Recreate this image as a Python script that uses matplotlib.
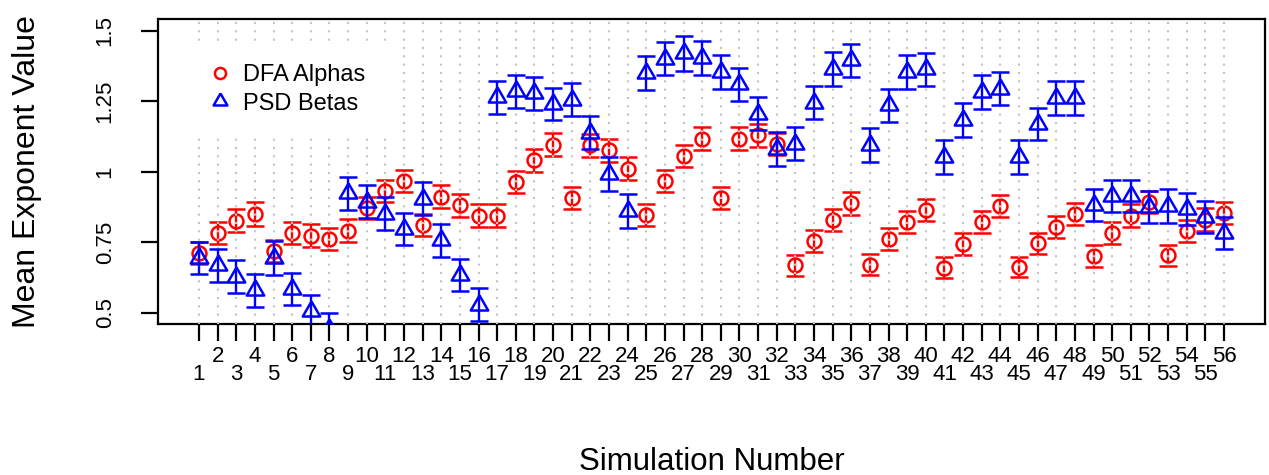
import matplotlib
matplotlib.use("Agg")
import matplotlib.pyplot as plt
from matplotlib.lines import Line2D

plt.rcParams['font.family'] = ['Liberation Sans', 'DejaVu Sans']

# simulation numbers 1..56
sims = list(range(1, 57))

# mean DFA alpha per simulation
dfa_alpha = [0.711, 0.782, 0.826, 0.850, 0.718, 0.782, 0.773, 0.762, 0.791, 0.871,
             0.932, 0.967, 0.811, 0.911, 0.881, 0.844, 0.844, 0.963, 1.040, 1.096,
             0.905, 1.093, 1.075, 1.011, 0.846, 0.967, 1.055, 1.117, 0.906, 1.117,
             1.129, 1.098, 0.668, 0.754, 0.828, 0.888, 0.670, 0.762, 0.820, 0.864,
             0.660, 0.744, 0.820, 0.879, 0.662, 0.746, 0.803, 0.850, 0.701, 0.783,
             0.844, 0.893, 0.703, 0.789, 0.830, 0.853]
dfa_err = [0.040, 0.040, 0.040, 0.041, 0.040, 0.040, 0.040, 0.040, 0.040, 0.040,
           0.040, 0.040, 0.040, 0.040, 0.040, 0.040, 0.040, 0.040, 0.040, 0.040,
           0.039, 0.040, 0.040, 0.040, 0.039, 0.040, 0.040, 0.040, 0.039, 0.040,
           0.040, 0.040, 0.037, 0.038, 0.039, 0.040, 0.037, 0.038, 0.039, 0.040,
           0.037, 0.038, 0.039, 0.040, 0.037, 0.038, 0.039, 0.040, 0.038, 0.039,
           0.040, 0.040, 0.038, 0.039, 0.040, 0.040]

# mean PSD beta per simulation
psd_beta = [0.693, 0.668, 0.628, 0.579, 0.695, 0.583, 0.505, 0.442, 0.923, 0.894,
            0.851, 0.798, 0.904, 0.756, 0.634, 0.529, 1.263, 1.285, 1.278, 1.240,
            1.255, 1.138, 0.993, 0.860, 1.349, 1.400, 1.419, 1.402, 1.352, 1.309,
            1.206, 1.080, 1.099, 1.244, 1.364, 1.394, 1.094, 1.235, 1.352, 1.363,
            1.053, 1.182, 1.283, 1.294, 1.052, 1.168, 1.262, 1.262, 0.883, 0.913,
            0.915, 0.875, 0.877, 0.868, 0.840, 0.783]
psd_err = [0.057, 0.058, 0.058, 0.057, 0.060, 0.057, 0.058, 0.058, 0.059, 0.059,
           0.058, 0.057, 0.059, 0.059, 0.057, 0.057, 0.059, 0.059, 0.058, 0.058,
           0.059, 0.059, 0.060, 0.060, 0.061, 0.058, 0.062, 0.060, 0.060, 0.059,
           0.057, 0.060, 0.059, 0.059, 0.060, 0.060, 0.060, 0.059, 0.060, 0.059,
           0.060, 0.060, 0.060, 0.059, 0.059, 0.057, 0.060, 0.060, 0.057, 0.057,
           0.057, 0.058, 0.060, 0.057, 0.057, 0.057]

y_ticks = [0.5, 0.75, 1.0, 1.25, 1.5]
y_ticklabels = ["0.5", "0.75", "1", "1.25", "1.5"]

# R style triangle (pch=2), centred on its centroid
tri = [(0, 1.5551), (1.3468, -0.7776), (-1.3468, -0.7776), (0, 1.5551)]

fig = plt.figure(figsize=(12.69, 4.75), dpi=100)
fig.subplots_adjust(left=158 / 1269, right=1265 / 1269, bottom=1 - 324 / 475, top=1 - 19.3 / 475)
ax = fig.add_subplot(111)

ax.errorbar(sims, dfa_alpha, yerr=dfa_err, fmt='o', color='#ff0000', mfc='none', mec='#ff0000',
            ms=10, mew=1.8, elinewidth=1.7, capsize=6.5, capthick=1.8, zorder=2)
ax.errorbar(sims, psd_beta, yerr=psd_err, fmt='none', ecolor='#0000ff',
            elinewidth=1.7, capsize=6.5, capthick=1.8, zorder=3)
ax.plot(sims, psd_beta, linestyle='none', marker=tri, color='#0000ff', mfc='none',
        ms=14.5, mew=1.8, zorder=3)

ax.set_xlim(-1.2, 58.2)
ax.set_ylim(0.46, 1.54)

# even labels on upper row, odd labels on lower row
ax.set_xticks([s for s in sims if s % 2 == 0])
ax.set_xticklabels([str(s) for s in sims if s % 2 == 0])
ax.set_xticks([s for s in sims if s % 2 == 1], minor=True)
ax.set_xticklabels([str(s) for s in sims if s % 2 == 1], minor=True)
ax.tick_params(axis='x', which='major', length=12, width=1.6, pad=3.5, labelsize=16)
ax.tick_params(axis='x', which='minor', length=12, width=1.6, pad=16.8, labelsize=16)

ax.set_yticks(y_ticks)
ax.set_yticklabels(y_ticklabels, rotation=90, va='center')
ax.tick_params(axis='y', length=12, width=1.6, pad=18.5, labelsize=16)

for sp in ax.spines.values():
    sp.set_linewidth(1.6)

# dotted vertical guides at every simulation
ax.grid(True, which='both', axis='x', color='#c4c4c4', linestyle=(0, (1, 3)), linewidth=1.5, zorder=5)
ax.set_axisbelow(False)

ax.set_xlabel("Simulation Number", fontsize=22.5)
ax.xaxis.set_label_coords(0.5, -0.453)
ax.xaxis.label.set_va('center')
ax.set_ylabel("Mean Exponent Value", fontsize=23)
ax.yaxis.set_label_coords(-0.118, 0.5)
ax.yaxis.label.set_va('center')

handles = [Line2D([], [], linestyle='none', marker='o', color='#ff0000', mfc='none', ms=8, mew=1.8),
           Line2D([], [], linestyle='none', marker=tri, color='#0000ff', mfc='none', ms=11.5, mew=1.8)]
leg = ax.legend(handles, ["DFA Alphas", "PSD Betas"], loc='upper left', bbox_to_anchor=(0.014, 0.965),
                fontsize=17, frameon=True, fancybox=False, framealpha=1, edgecolor='white',
                handlelength=1.0, handletextpad=0.5, labelspacing=0.27, borderpad=0.95)
leg.set_zorder(10)

fig.savefig("out.png", dpi=100)
